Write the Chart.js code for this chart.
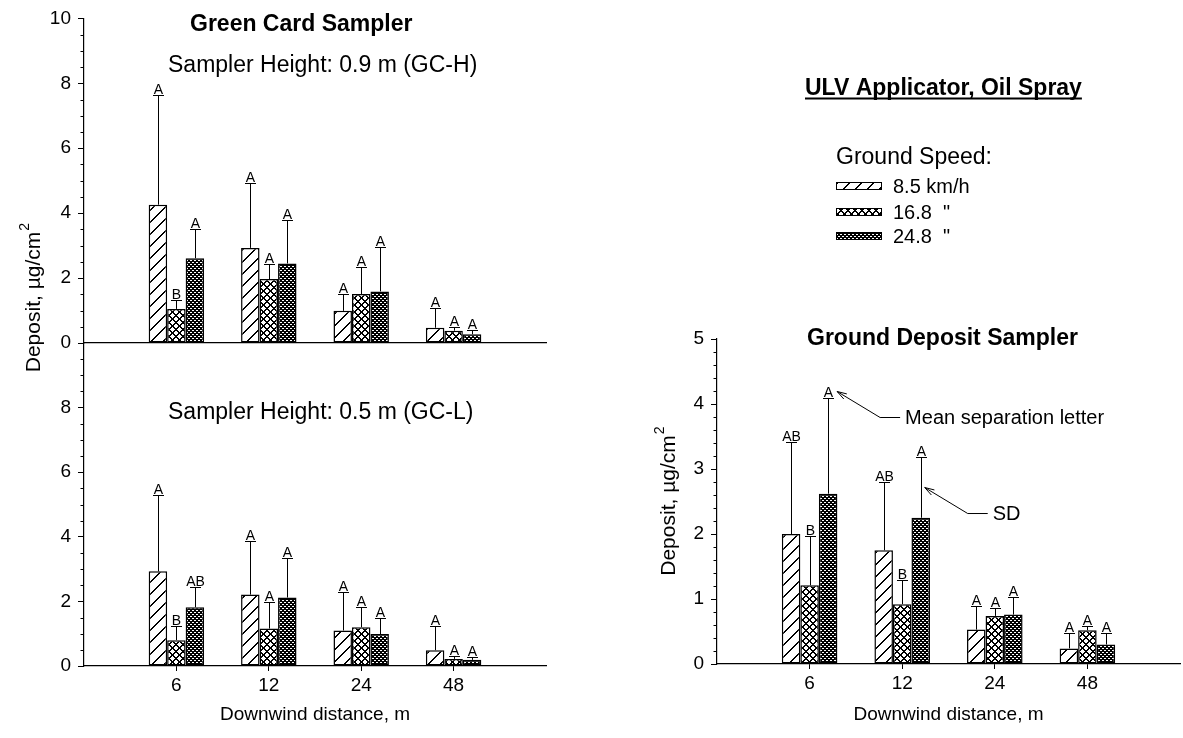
<!DOCTYPE html>
<html>
<head>
<meta charset="utf-8">
<title>ULV Applicator, Oil Spray</title>
<script src="https://cdn.jsdelivr.net/npm/chart.js@4.4.1/dist/chart.umd.min.js"></script>
<style>
  body { margin: 0; background: #fff; }
  #wrap { position: relative; width: 1183px; height: 738px; }
  #wrap canvas { position: absolute; left: 0; top: 0; }
</style>
</head>
<body>
<div id="wrap">
  <canvas id="gcHigh" width="1183" height="738"></canvas>
  <canvas id="gcLow" width="1183" height="738"></canvas>
  <canvas id="ground" width="1183" height="738"></canvas>
</div>
<script>
const FONT = "'Liberation Sans', Arial, sans-serif";
Chart.defaults.font.family = FONT;
Chart.defaults.color = '#000';

const distances = ['6', '12', '24', '48'];
const speeds = ['8.5 km/h', '16.8  "', '24.8  "'];

// green card, 0.9 m (GC-H) - mean, SD, letters per ground speed
const highMean85 = [4.26, 2.93, 0.99, 0.47];
const highMean168 = [1.05, 1.97, 1.51, 0.38];
const highMean248 = [2.61, 2.45, 1.59, 0.27];
const highSd85 = [3.39, 1.99, 0.53, 0.60];
const highSd168 = [0.26, 0.46, 0.82, 0.10];
const highSd248 = [0.90, 1.34, 1.38, 0.13];
const highLet85 = ['A', 'A', 'A', 'A'];
const highLet168 = ['B', 'A', 'A', 'A'];
const highLet248 = ['A', 'A', 'A', 'A'];

// green card, 0.5 m (GC-L)
const lowMean85 = [2.93, 2.21, 1.10, 0.49];
const lowMean168 = [0.80, 1.16, 1.20, 0.22];
const lowMean248 = [1.82, 2.12, 0.99, 0.19];
const lowSd85 = [2.36, 1.67, 1.19, 0.76];
const lowSd168 = [0.44, 0.81, 0.64, 0.09];
const lowSd248 = [0.64, 1.21, 0.51, 0.10];
const lowLet85 = ['A', 'A', 'A', 'A'];
const lowLet168 = ['B', 'A', 'A', 'A'];
const lowLet248 = ['AB', 'A', 'A', 'A'];

// ground deposit sampler
const gdMean85 = [2.00, 1.75, 0.53, 0.24];
const gdMean168 = [1.21, 0.92, 0.74, 0.52];
const gdMean248 = [2.62, 2.25, 0.76, 0.30];
const gdSd85 = [1.42, 1.05, 0.37, 0.23];
const gdSd168 = [0.76, 0.38, 0.12, 0.06];
const gdSd248 = [1.48, 0.93, 0.27, 0.17];
const gdLet85 = ['AB', 'AB', 'A', 'A'];
const gdLet168 = ['B', 'B', 'A', 'A'];
const gdLet248 = ['A', 'A', 'A', 'A'];

// empty slot each side so the groups sit at 1..4 of a 0..5 axis
const xLabels = ['', ...distances, ''];
const pad = arr => [null, ...arr, null];

// fill patterns: diagonal, cross hatch, dense cross hatch
function tilePattern(size, ink) {
  const c = document.createElement('canvas');
  c.width = c.height = size;
  const g = c.getContext('2d');
  const img = g.createImageData(size, size);
  for (let y = 0; y < size; y++) {
    for (let x = 0; x < size; x++) {
      const k = (y * size + x) * 4;
      const v = ink(x, y) ? 0 : 255;
      img.data[k] = img.data[k + 1] = img.data[k + 2] = v;
      img.data[k + 3] = 255;
    }
  }
  g.putImageData(img, 0, 0);
  return g.createPattern(c, 'repeat');
}
const fills = [
  tilePattern(12, (x, y) => (x + y) % 12 === 11 || (x + y) % 12 === 0),
  tilePattern(7, (x, y) => (x + y) % 7 <= 1 || (x - y + 7) % 7 <= 1),
  tilePattern(4, (x, y) => (x + y) % 4 <= 1 || (x - y + 4) % 4 <= 1),
];

function bars(means, sds, letters) {
  return means.map((m, i) => ({
    label: speeds[i],
    data: pad(m),
    sd: pad(sds[i]),
    letters: pad(letters[i]),
    backgroundColor: fills[i],
    borderColor: '#000',
    borderWidth: 1.5,
    borderSkipped: false,
    categoryPercentage: 0.6,
    barPercentage: 1,
  }));
}

// SD whisker (upward only) with the mean separation letter on top
const errorBars = {
  id: 'errorBars',
  afterDatasetsDraw(chart) {
    const ctx = chart.ctx, y = chart.scales.y;
    ctx.save();
    ctx.strokeStyle = '#000';
    ctx.fillStyle = '#000';
    ctx.lineWidth = 1;
    ctx.font = `14px ${FONT}`;
    ctx.textAlign = 'center';
    ctx.textBaseline = 'alphabetic';
    chart.data.datasets.forEach((ds, di) => {
      chart.getDatasetMeta(di).data.forEach((bar, i) => {
        if (ds.data[i] == null) return;
        const x = Math.round(bar.x) + 0.5;
        const top = Math.round(y.getPixelForValue(ds.data[i] + ds.sd[i])) + 0.5;
        ctx.beginPath();
        ctx.moveTo(x, bar.y);
        ctx.lineTo(x, top);
        ctx.moveTo(x - 5.5, top);
        ctx.lineTo(x + 5.5, top);
        ctx.stroke();
        ctx.fillText(ds.letters[i], x, top - 2);
      });
    });
    ctx.restore();
  }
};

function minorTicks(step, major) {
  return {
    id: 'minorTicks',
    afterDraw(chart) {
      const s = chart.scales.y, ctx = chart.ctx;
      ctx.save();
      ctx.strokeStyle = '#000';
      ctx.lineWidth = 1;
      ctx.beginPath();
      for (let k = 0; k * step <= s.max + 1e-9; k++) {
        const v = k * step;
        if (Math.abs(v / major - Math.round(v / major)) < 1e-6) continue;
        const py = Math.round(s.getPixelForValue(v)) + 0.5;
        ctx.moveTo(s.right - 3.5, py);
        ctx.lineTo(s.right, py);
      }
      ctx.stroke();
      ctx.restore();
    }
  };
}

function depositTitle(ctx, x, yc) {
  ctx.save();
  ctx.translate(x, yc);
  ctx.rotate(-Math.PI / 2);
  ctx.fillStyle = '#000';
  ctx.textAlign = 'left';
  ctx.textBaseline = 'alphabetic';
  ctx.font = `21px ${FONT}`;
  const main = 'Deposit, µg/cm';
  const w = ctx.measureText(main).width;
  const start = -(w + 8) / 2;
  ctx.fillText(main, start, 0);
  ctx.font = `14px ${FONT}`;
  ctx.fillText('2', start + w + 1, -11);
  ctx.restore();
}

function callout(ctx, tx, ty, text) {
  const ex = tx + 43, ey = ty + 26, hx = ex + 20;
  const a = Math.atan2(ey - ty, ex - tx);
  ctx.save();
  ctx.strokeStyle = '#000';
  ctx.fillStyle = '#000';
  ctx.lineWidth = 1;
  ctx.beginPath();
  ctx.moveTo(hx, ey);
  ctx.lineTo(ex, ey);
  ctx.lineTo(tx, ty);
  ctx.moveTo(tx + 10 * Math.cos(a - 0.3), ty + 10 * Math.sin(a - 0.3));
  ctx.lineTo(tx, ty);
  ctx.lineTo(tx + 10 * Math.cos(a + 0.3), ty + 10 * Math.sin(a + 0.3));
  ctx.stroke();
  ctx.font = `20px ${FONT}`;
  ctx.textBaseline = 'middle';
  ctx.fillText(text, hx + 5, ey + 1);
  ctx.restore();
}

const leftNotes = {
  id: 'leftNotes',
  afterDraw(chart) {
    const ctx = chart.ctx;
    ctx.save();
    ctx.fillStyle = '#000';
    ctx.textBaseline = 'alphabetic';
    ctx.font = `bold 23px ${FONT}`;
    ctx.fillText('Green Card Sampler', 190, 31);
    ctx.font = `23px ${FONT}`;
    ctx.fillText('Sampler Height: 0.9 m (GC-H)', 168, 72);
    ctx.fillText('Sampler Height: 0.5 m (GC-L)', 168, 419);
    ctx.restore();
    depositTitle(ctx, 40, 298);
  }
};

const rightNotes = {
  id: 'rightNotes',
  afterDraw(chart) {
    const ctx = chart.ctx, y = chart.scales.y, area = chart.chartArea;
    ctx.save();
    ctx.fillStyle = '#000';
    ctx.strokeStyle = '#000';
    ctx.textBaseline = 'alphabetic';
    ctx.font = `bold 23px ${FONT}`;
    const head = 'ULV Applicator, Oil Spray';
    ctx.fillText(head, 805, 94.5);
    ctx.lineWidth = 1.8;
    ctx.beginPath();
    ctx.moveTo(805, 98.5);
    ctx.lineTo(805 + ctx.measureText(head).width, 98.5);
    ctx.stroke();
    ctx.fillText('Ground Deposit Sampler', 807, 345);

    ctx.font = `23px ${FONT}`;
    ctx.fillText('Ground Speed:', 836, 163.5);
    ctx.font = `20px ${FONT}`;
    const rows = [186, 212, 236];
    speeds.forEach((s, i) => {
      ctx.fillStyle = fills[i];
      ctx.fillRect(836, rows[i] - 4, 46, 8);
      ctx.lineWidth = 1;
      ctx.strokeRect(836.5, rows[i] - 3.5, 45, 7);
      ctx.fillStyle = '#000';
      ctx.textBaseline = 'middle';
      ctx.fillText(s, 893, rows[i] + 1);
    });
    ctx.restore();

    depositTitle(ctx, 675, (area.top + area.bottom) / 2);

    const ds = chart.data.datasets[2];
    const meta = chart.getDatasetMeta(2);
    callout(ctx, meta.data[1].x + 9, y.getPixelForValue(ds.data[1] + ds.sd[1]) - 6, 'Mean separation letter');
    callout(ctx, meta.data[2].x + 4, y.getPixelForValue(ds.data[2] + ds.sd[2] / 2), 'SD');
  }
};

function panel(id, datasets, o) {
  return new Chart(document.getElementById(id), {
    type: 'bar',
    data: { labels: xLabels, datasets },
    options: {
      responsive: false,
      animation: false,
      events: [],
      layout: { padding: o.padding },
      plugins: { legend: { display: false }, tooltip: { enabled: false } },
      scales: {
        x: {
          offset: false,
          grid: {
            offset: false,
            drawOnChartArea: false,
            drawTicks: o.showX,
            tickLength: 5,
            tickColor: c => (c.tick && c.tick.label) ? '#000' : 'rgba(0,0,0,0)',
          },
          border: { color: '#000', width: 1.2 },
          ticks: { display: o.showX, autoSkip: false, maxRotation: 0, padding: 3, font: { size: 19 } },
          title: {
            display: o.showX,
            text: 'Downwind distance, m',
            font: { size: 19 },
            padding: { top: 0, bottom: 12 },
          },
          afterFit: s => { s.height = o.xHeight; },
        },
        y: {
          min: 0,
          max: o.max,
          ticks: {
            stepSize: o.major,
            padding: 7,
            font: { size: 19 },
            callback: v => (o.hideMax && v === o.max) ? '' : v,
          },
          grid: { drawOnChartArea: false, tickLength: 6, tickColor: '#000' },
          border: { color: '#000', width: 1.2 },
          afterFit: s => { s.width = o.yWidth; },
        }
      }
    },
    plugins: [errorBars, minorTicks(o.minor, o.major)].concat(o.extra || []),
  });
}

panel('gcHigh',
  bars([highMean85, highMean168, highMean248], [highSd85, highSd168, highSd248], [highLet85, highLet168, highLet248]),
  { padding: { top: 15, left: 0, right: 637, bottom: 395 }, yWidth: 84, xHeight: 0, showX: false,
    max: 10, major: 2, minor: 0.5, extra: [leftNotes] });

panel('gcLow',
  bars([lowMean85, lowMean168, lowMean248], [lowSd85, lowSd168, lowSd248], [lowLet85, lowLet168, lowLet248]),
  { padding: { top: 343, left: 0, right: 637, bottom: 0 }, yWidth: 84, xHeight: 72, showX: true,
    max: 10, major: 2, minor: 0.5, hideMax: true });

panel('ground',
  bars([gdMean85, gdMean168, gdMean248], [gdSd85, gdSd168, gdSd248], [gdLet85, gdLet168, gdLet248]),
  { padding: { top: 339, left: 677, right: 3, bottom: 0 }, yWidth: 40, xHeight: 74, showX: true,
    max: 5, major: 1, minor: 0.2, extra: [rightNotes] });
</script>
</body>
</html>
